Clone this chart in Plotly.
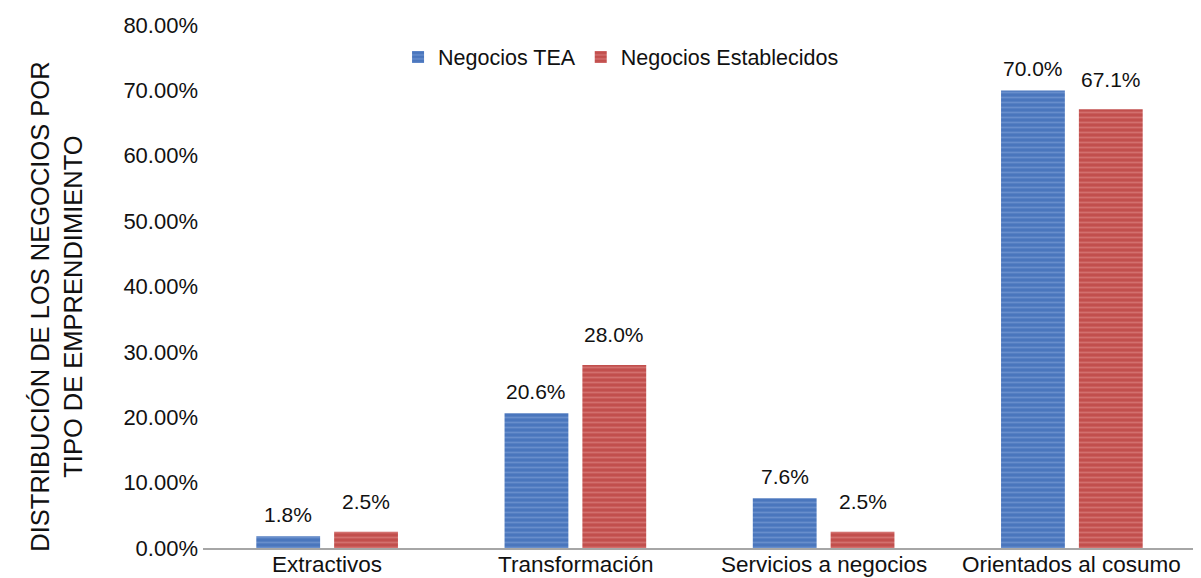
import plotly.graph_objects as go

categories = ["Extractivos", "Transformación", "Servicios a negocios", "Orientados al cosumo"]
tea = [1.8, 20.6, 7.6, 70.0]
establecidos = [2.5, 28.0, 2.5, 67.1]
series_names = ["Negocios TEA", "Negocios Establecidos"]
y_ticks = [0, 10, 20, 30, 40, 50, 60, 70, 80]
y_title = "DISTRIBUCIÓN DE LOS NEGOCIOS POR<br>TIPO DE EMPRENDIMIENTO"

FONT = "Liberation Sans, Arial, sans-serif"
blue, blue_l = "#4a76bd", "#86a6dc"
red, red_l = "#c24f4d", "#e39290"

fig = go.Figure()
for name, vals, c, cl in [(series_names[0], tea, blue, blue_l),
                          (series_names[1], establecidos, red, red_l)]:
    fig.add_trace(go.Bar(
        name=name, x=categories, y=vals,
        marker=dict(color=c, line=dict(width=0),
                    pattern=dict(shape="-", fgcolor=cl, bgcolor=c,
                                 size=5, solidity=0.35, fillmode="overlay")),
        hoverinfo="skip",
    ))

annotations = []
for vals, xs, ys in [(tea, -39, 22), (establecidos, 39, 30)]:
    for cat, v in zip(categories, vals):
        annotations.append(dict(x=cat, y=v, xref="x", yref="y", text=f"{v:.1f}%",
                                showarrow=False, xshift=xs, yshift=ys,
                                font=dict(size=21, color="#111", family=FONT)))
# category labels under the axis (drawn as text just below the baseline)
for cat in categories:
    annotations.append(dict(x=cat, y=0, xref="x", yref="y", text=cat,
                            showarrow=False, yanchor="top", yshift=-2,
                            font=dict(size=22.5, color="#111", family=FONT)))
annotations.append(dict(x=-0.18, y=0.461, xref="paper", yref="paper", text=y_title,
                        textangle=-90, showarrow=False, align="center",
                        font=dict(size=25.5, color="#111", family=FONT)))

fig.update_layout(
    width=1201, height=578,
    margin=dict(l=195, r=13, t=17, b=38),
    paper_bgcolor="white", plot_bgcolor="white",
    barmode="group", bargap=0.373, bargroupgap=0.18,
    font=dict(family=FONT, size=18, color="#111"),
    legend=dict(orientation="h", x=0.421, xanchor="center", y=0.939, yanchor="middle",
                font=dict(size=21.5), itemwidth=30, bgcolor="rgba(0,0,0,0)"),
    annotations=annotations,
    xaxis=dict(showline=True, linecolor="#a6a6a6", linewidth=2, ticks="",
               showticklabels=False, showgrid=False, automargin=False),
    yaxis=dict(range=[0, 80], tickvals=y_ticks,
               ticktext=[f"{t:.2f}%" for t in y_ticks],
               showgrid=False, zeroline=False, showline=False, ticks="",
               tickfont=dict(size=22), automargin=False, ticklabelstandoff=4),
)
fig.write_html("out.html")
